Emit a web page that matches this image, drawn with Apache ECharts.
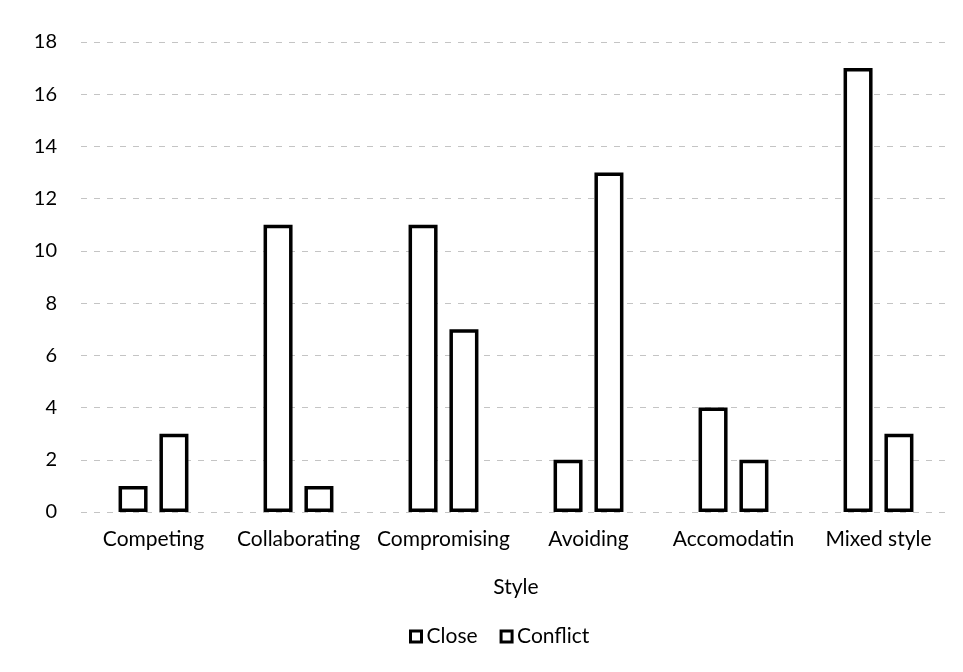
<!DOCTYPE html>
<html>
<head>
<meta charset="utf-8">
<script src="https://cdn.jsdelivr.net/npm/echarts@6/dist/echarts.min.js"></script>
<style>
  html, body { margin: 0; padding: 0; background: #fff; }
  #chart { width: 963px; height: 672px; }
</style>
</head>
<body>
<div id="chart"></div>
<script>
const categories = ['Competing', 'Collaborating', 'Compromising', 'Avoiding', 'Accomodatin', 'Mixed style']
const closeValues = [1, 11, 11, 2, 4, 17]
const conflictValues = [3, 1, 7, 13, 2, 3]

const font = 'Lato, "Open Sans", sans-serif'

const barStyle = {
    color: '#fff',
    borderColor: '#000',
    borderWidth: 3.5
}

let myChart = echarts.init(document.getElementById('chart'))

let option = {
    animation: false,
    grid: {
        left: 81,
        right: 12,
        top: 42,
        bottom: 160
    },
    legend: {
        bottom: 20,
        left: 404,
        itemWidth: 11,
        itemHeight: 11,
        itemGap: 22,
        textStyle: { fontFamily: font, fontSize: 21, color: '#000' },
        data: [
            { name: 'Close', icon: 'rect', itemStyle: { color: '#fff', borderColor: '#000', borderWidth: 3 } },
            { name: 'Conflict', icon: 'rect', itemStyle: { color: '#fff', borderColor: '#000', borderWidth: 3 } }
        ]
    },
    xAxis: {
        type: 'category',
        data: categories,
        name: 'Style',
        nameLocation: 'middle',
        nameGap: 65,
        nameTextStyle: { fontFamily: font, fontSize: 21, color: '#000' },
        axisLine: { show: false },
        axisTick: { show: false },
        axisLabel: { fontFamily: font, fontSize: 21, color: '#000', margin: 17, interval: 0 }
    },
    yAxis: {
        type: 'value',
        min: 0,
        max: 18,
        interval: 2,
        axisLine: { show: false },
        axisTick: { show: false },
        axisLabel: { fontFamily: font, fontSize: 20, color: '#000', margin: 24 },
        splitLine: {
            lineStyle: { color: '#c4c4c4', type: [6, 7], width: 1 }
        }
    },
    series: [
        {
            name: 'Close',
            type: 'bar',
            data: closeValues,
            barWidth: 29,
            barGap: '41%',
            itemStyle: barStyle
        },
        {
            name: 'Conflict',
            type: 'bar',
            data: conflictValues,
            barWidth: 29,
            itemStyle: barStyle
        }
    ]
}

myChart.setOption(option)
</script>
</body>
</html>
